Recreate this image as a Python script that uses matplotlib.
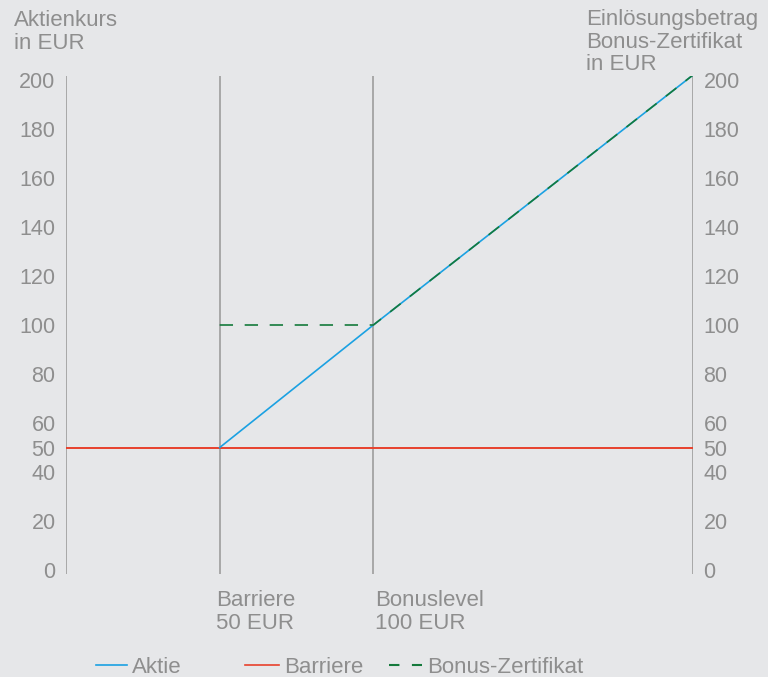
import matplotlib.pyplot as plt
from matplotlib.lines import Line2D

# values
yticks = [0, 20, 40, 50, 60, 80, 100, 120, 140, 160, 180, 200]
aktie_x = [50, 100, 204]
aktie_y = [50, 100, 202]
bonus_x = [50, 100, 204]
bonus_y = [100, 100, 202]
barriere = 50
bonuslevel = 100
x_end = 204
marker_labels = ['Barriere\n50 EUR', 'Bonuslevel\n100 EUR']
legend_labels = ['Aktie', 'Barriere', 'Bonus-Zertifikat']

bg = '#e6e7e9'
grey = '#8e8e8e'
linegrey = '#a8a8a8'
blue = '#1ba1e2'
red = '#e8412c'
green = '#157a3c'
fs = 15.5
fs_txt = 16

plt.rcParams['font.family'] = ['Liberation Sans', 'DejaVu Sans']

W, H = 768, 677
fig = plt.figure(figsize=(W / 100, H / 100), dpi=100, facecolor=bg)
# axes in pixel terms: left 66, right 693, top 76, bottom 574
ax = fig.add_axes([66 / W, (H - 574) / H, (693 - 66) / W, (574 - 76) / H])
ax.set_facecolor(bg)
ax.set_xlim(0, x_end)
ax.set_ylim(-1.6, 201.6)
for s in ax.spines.values():
    s.set_visible(False)

# vertical axis lines
for xv in [0, barriere, bonuslevel, x_end]:
    ax.axvline(xv, color=linegrey, lw=1.4, zorder=1)

ax.axhline(barriere, color=red, lw=1.4, zorder=2)
ax.plot(aktie_x, aktie_y, color=blue, lw=1.2, zorder=3)
ax.plot(bonus_x, bonus_y, color=green, lw=1.2, ls=(0, (8, 7)), zorder=4)

ax.set_xticks([])
ax.set_yticks(yticks)
ax.set_yticklabels([str(v) for v in yticks])
ax.tick_params(axis='y', length=0, pad=7.5, labelsize=fs, labelcolor=grey,
               labelright=True, labelleft=True)

# headers
fig.text(14 / W, 1 - 10 / H, 'Aktienkurs\nin EUR', ha='left', va='top',
         fontsize=fs_txt, color=grey, linespacing=1.12)
fig.text(586 / W, 1 - 9 / H, 'Einlösungsbetrag\nBonus-Zertifikat\nin EUR',
         ha='left', va='top', fontsize=fs_txt, color=grey, linespacing=1.1)

# labels under the vertical lines
for xv, dx, txt in zip([barriere, bonuslevel], [-4, 2], marker_labels):
    ax.annotate(txt, xy=(xv, 0), xycoords=('data', 'figure pixels'),
                xytext=(dx, H - 590), textcoords='offset pixels',
                ha='left', va='top', fontsize=fs_txt, color=grey,
                linespacing=1.12)

# legend entries placed one by one (uneven spacing in the original)
handles = [Line2D([], [], color=blue, lw=1.2),
           Line2D([], [], color=red, lw=1.2),
           Line2D([], [], color=green, lw=1.5, ls=(0, (5, 6)))]
for h, lab, x0, hl in zip(handles, legend_labels, [96, 245, 389], [1.4, 1.55, 1.5]):
    leg = fig.legend([h], [lab], loc='lower left',
                     bbox_to_anchor=(x0 / W, -1 / H), frameon=False,
                     fontsize=fs_txt, handlelength=hl, handletextpad=0.2,
                     borderpad=0, borderaxespad=0)
    for t in leg.get_texts():
        t.set_color(grey)

fig.savefig('out.png', dpi=100, facecolor=bg)
